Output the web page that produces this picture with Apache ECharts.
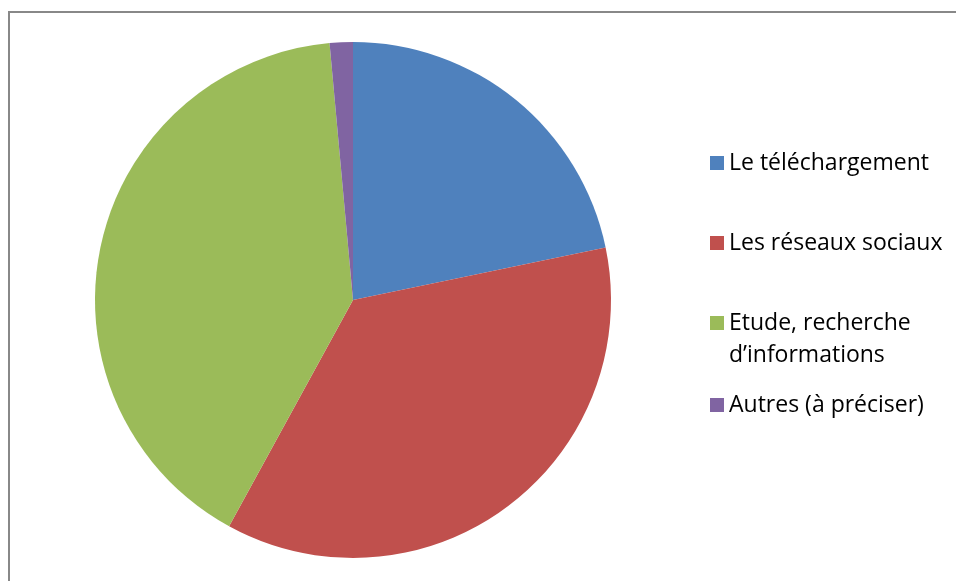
<!DOCTYPE html>
<html>
<head>
<meta charset="utf-8">
<script src="https://cdn.jsdelivr.net/npm/echarts@6/dist/echarts.min.js"></script>
<style>
html,body{margin:0;padding:0;background:#fff;}
#chart{width:956px;height:581px;}
</style>
</head>
<body>
<div id="chart"></div>
<script>
const categories = ['Le téléchargement', 'Les réseaux sociaux', 'Etude, recherche\nd’informations', 'Autres (à préciser)'];
const values = [15, 25, 28, 1];
const colors = ['#4F81BD', '#C0504D', '#9BBB59', '#8064A2'];
const legendCenters = [163, 243, 323, 405];

const chart = echarts.init(document.getElementById('chart'));
const LH = 32;
chart.setOption({
  backgroundColor: '#fff',
  animation: false,
  graphic: [{
    type: 'rect',
    shape: {x: 9, y: 12, width: 1000, height: 700},
    style: {fill: 'none', stroke: '#888', lineWidth: 2},
    silent: true
  }],
  legend: categories.map((c, i) => {
    const multi = c.indexOf('\n') >= 0;
    const h = multi ? 3 * LH : LH;
    return {
      orient: 'vertical',
      left: 710,
      top: legendCenters[i] - h / 2,
      itemWidth: 14,
      itemHeight: 14,
      icon: 'rect',
      padding: 0,
      textStyle: {fontFamily: 'Open Sans', fontSize: 23, color: '#000', lineHeight: LH},
      formatter: n => multi ? '\n' + n : n,
      data: [c]
    };
  }),
  series: [{
    type: 'pie',
    center: [353, 300],
    radius: 258,
    startAngle: 90,
    clockwise: true,
    label: {show: false},
    labelLine: {show: false},
    itemStyle: {borderWidth: 0},
    emphasis: {disabled: true},
    data: categories.map((c, i) => ({name: c, value: values[i], itemStyle: {color: colors[i]}}))
  }]
});
</script>
</body>
</html>
